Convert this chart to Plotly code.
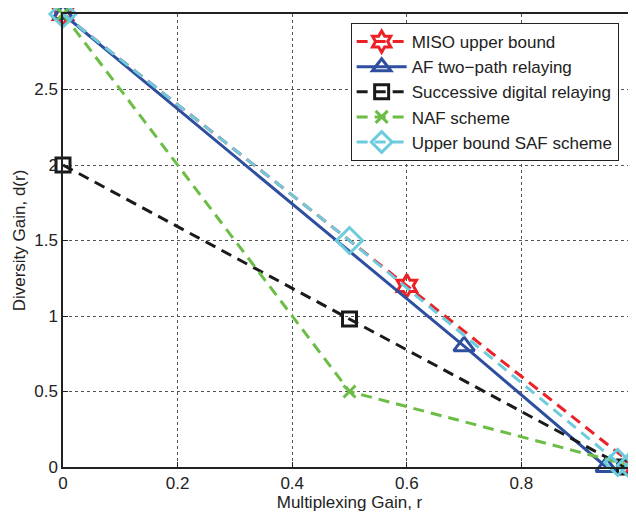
import plotly.graph_objects as go

# Data
miso_r = [0.0, 0.6, 1.0]
miso_d = [3.0, 1.2, 0.0]

af_r = [0.0, 0.7, 0.948]
af_d = [3.0, 0.8, 0.0]

sdr_r = [0.0, 0.5, 0.98]
sdr_d = [2.0, 0.98, 0.0]

naf_r = [0.0, 0.5, 1.0]
naf_d = [3.0, 0.5, 0.0]

saf_r = [0.0, 0.5, 0.968, 0.99]
saf_d = [3.0, 1.5, 0.03, 0.01]

x_ticks = [0, 0.2, 0.4, 0.6, 0.8]
y_ticks = [0, 0.5, 1, 1.5, 2, 2.5, 3]

series = [
    ("MISO upper bound", miso_r, miso_d, "#ec2027", "11px,7px", "hexagram-open", 17),
    ("AF two\u2212path relaying", af_r, af_d, "#2e4f9f", "solid", "triangle-up-open", 18),
    ("Successive digital relaying", sdr_r, sdr_d, "#1a1a1a", "11px,7px", "square-open", 14),
    ("NAF scheme", naf_r, naf_d, "#6bbd45", "11px,7px", "x-thin-open", 12),
    ("Upper bound SAF scheme", saf_r, saf_d, "#6ccbdd", "11px,7px", "diamond-open", 20),
]

fig = go.Figure()
for name, xs, ys, col, dash, sym, msize in series:
    fig.add_trace(go.Scatter(
        x=xs, y=ys, name=name, mode="lines+markers",
        line=dict(color=col, width=3, dash=dash),
        marker=dict(symbol=sym, size=msize, color=col, line=dict(width=3, color=col)),
        cliponaxis=False,
    ))

font_family = "Liberation Sans, Arial, Helvetica, sans-serif"
# page body has an 8px default margin, so the figure is sized to fit the window
fig.update_layout(
    width=628, height=510,
    margin=dict(l=55, r=0, t=6, b=51),
    paper_bgcolor="white", plot_bgcolor="white",
    font=dict(family=font_family, size=17, color="#222222"),
    showlegend=True,
    legend=dict(
        x=0.502, y=0.98, xanchor="left", yanchor="top",
        bgcolor="white", bordercolor="#222222", borderwidth=1,
        font=dict(size=17, color="#222222"),
        tracegroupgap=0, itemwidth=50,
    ),
    xaxis=dict(
        range=[0, 1], tickvals=x_ticks, ticktext=[str(v) for v in x_ticks],
        showline=True, linecolor="#222222", linewidth=1.5, mirror=True,
        ticks="inside", ticklen=5, tickcolor="#222222",
        showgrid=True, gridcolor="#555555", griddash="dot", gridwidth=1,
        zeroline=False, automargin=False,
        title=dict(text="Multiplexing Gain, r", font=dict(size=17), standoff=4),
    ),
    yaxis=dict(
        range=[0, 3], tickvals=y_ticks, ticktext=["0", "0.5", "1", "1.5", "2", "2.5", "3"],
        showline=True, linecolor="#222222", linewidth=1.5, mirror=True,
        ticks="inside", ticklen=5, tickcolor="#222222",
        showgrid=True, gridcolor="#555555", griddash="dot", gridwidth=1,
        zeroline=False, automargin=False,
        title=dict(text="Diversity Gain, d(r)", font=dict(size=17), standoff=4),
    ),
)

fig.write_html("out.html")
